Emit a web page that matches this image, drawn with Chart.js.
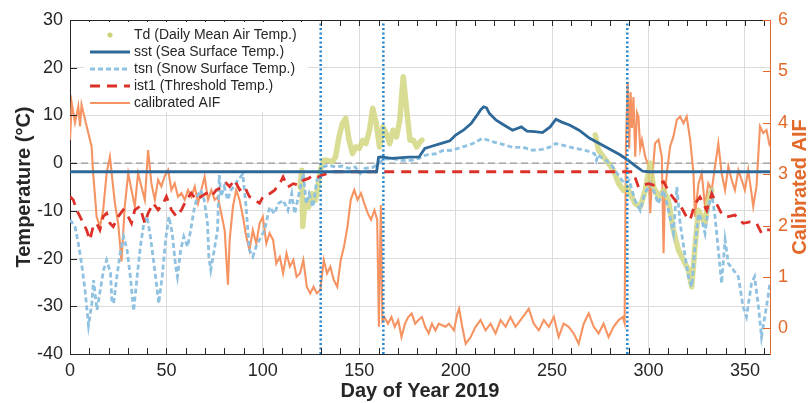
<!DOCTYPE html>
<html>
<head>
<meta charset="utf-8">
<script src="https://cdn.jsdelivr.net/npm/chart.js@4"></script>
<style>
  html, body { margin: 0; padding: 0; background: #fff; overflow: hidden; }
  canvas { display: block; }
</style>
</head>
<body>
<canvas id="aifChart" width="809" height="403"></canvas>
<script>
// Day of year 2019 vs temperatures (left) and calibrated AIF (right)

const tsnDay = [0,2.6,4.3,6,7.8,9.6,11.3,12.2,14,15.7, 17.4,19,21,21.7,22.6,24.3,26,27.8,29.6,31.3,
  33,34.8,36.5,38.3,40,41.7,43.5,45.2,46,47.8, 49.6,51.3,53,54.8,55.7,57.4,59,61,62.6,64.3,
  66,67.8,69.6,71.3,72,73,74.8,76.5,77.4,78.3, 80,81.7,83.5,85.2,87,89.6,91.3,93,94.8,96.5,
  99,101,103.5,106,108,110.5,113,115,116.5,118, 121,122.5,124,126,128,130,131.5,134,137.5,141,
  144.5,148,150.5,153,157,160,162.5,167,172,177, 181,184.5,190,193,198,203.7,208.9,214,219,224,
  229.5,235,240,245,248.5,252,257,262,268,272, 273,274,275,278,281.5,285,287.5,290,293,295.7,
  298,301,302.6,305,307.8,310,312.9,314.7,316.4,319, 320.7,322.4,324,325.9,327.6,329.3,331,332.8,334.5,336.2,
  337.9,339.7,341.4,344,346.6,349,350.8,353.4,355,357, 358.6,360.3,362,363];
const tsnVal = [-11.9,-13.3,-16.8,-21,-26.6,-34,-29.4,-24.5,-30.8,-26.6, -22.4,-20.3,-23,-28.7,-29.4,-23.8,-18.9,-15.4,-18.2,-23.8,
  -31,-23.8,-17.5,-12.6,-11.2,-15.4,-21,-26.6,-29.4,-23.8, -16,-11.2,-14.7,-21.7,-23.8,-18.2,-15.4,-17.5,-14,-9.8,
  -7,-5.6,-7.7,-12.6,-19.6,-22.4,-18.2,-14,-2.5,-7, -4.9,-7.7,-5.6,-4.9,-3.5,-2.3,-9.1,-18.2,-19.6,-17.5,
  -15.4,-14,-9.2,-10.6,-8.5,-7.8,-9.9,-6.4,-10.6,-7.8, -2.2,-8.5,-6.4,-9.2,-3.6,-2.9,-0.8,-0.4,-0.8,-0.6,
  -1.1,-0.8,-2.2,-1.1,-0.9,-0.1,0.8,1.0,0.6,0.6, 1.0,1.7,2.0,2.6,2.7,3.4,4.1,5.2,4.5,4.0,
  3.3,3.3,2.7,2.9,3.3,4.1,3.6,3.1,2.6,2.0, 0.6,1.8,1.3,0.6,-0.8,-2.9,-4.3,-3.6,-7.8,-9.9,
  -6.4,-4.3,-5.7,-8.5,-5.7,-9.2,-14.7,-5,-12.6,-19.6, -23.8,-25.9,-18.2,-10.6,-11.9,-14.7,-9.2,-6.4,-11.2,-18.2,
  -25.2,-16.1,-21,-22.4,-23.8,-30,-32.2,-25.2,-23.8,-30, -36.4,-32.2,-28,-25];

const ist1Day = [0,1.7,3.4,5.2,6.9,8.6,10.3,12,13.8,15.5, 17.2,19,20.7,22.4,25,27.6,29.3,31.9,33.6,36.2,
  38.8,40.5,43.1,45.7,48.3,50,52.6,55.2,57.8,60.3, 62.9,65.5,68.1,70.7,73.3,75.9,78.4,81,82.8,85.3,
  88,90.5,93,95.7,98.3,100,103.5,106,108.8,110.5, 113,115.8,118.4,121,123.7,126.3,129,130.7,133.3,136.8,
  292,294.8,297.4,300,302.6,305.2,307.8,311.2,313.8,316.4, 319.8,321.6,324.1,326.7,330.2,332.8,335.3,337.9,340.5,344.8,
  349.1,352.6,356,358.6,361.2,363];
const ist1Val = [-7,-7.7,-9.8,-11.2,-12.6,-14,-16.1,-13.3,-12.6,-14, -11.2,-10.5,-12.6,-13.3,-11.2,-9.8,-10.5,-12.6,-9.8,-9.1,
  -12.6,-10.5,-8.4,-9.8,-8.4,-7,-9.8,-11.2,-9.8,-7.7, -6.3,-7.7,-7,-6.3,-7,-5.6,-5.2,-4.2,-4.9,-3.5,
  -5.6,-4.9,-7,-7.7,-8.4,-7.1,-6.4,-5.7,-4.3,-2.9, -5,-4.3,-4.6,-3.6,-3.2,-2.5,-2.9,-2.5,-2.2,-1.8,
  -1.8,-5,-4.6,-4.3,-4.6,-4.3,-3.9,-6.4,-7.8,-8.8, -11.3,-11.9,-8.5,-7.1,-9.9,-6.4,-8.5,-10.6,-11.3,-10.9,
  -12.6,-12.3,-12.6,-14.7,-14,-14];

const sstDay = [0,159,160,161,167,175.6,181,184,188,193, 197,200,204,208,211,213,214.5,216,217.5,221,
  225,229.5,234,237,241,245,249,252,255,259, 264,269.5,275,280,285,289.5,293,297,300,363];
const sstVal = [-1.8,-1.8,1.2,1.3,1.0,1.25,1.3,3.1,3.6,4.2, 4.7,5.9,6.9,8.3,10,11.2,11.8,11.6,10.4,9,
  8,6.9,7.6,6.7,6.6,6.4,7.6,9.2,8.6,8.0, 6.9,5.2,4.0,2.9,1.8,0.6,-0.5,-1.7,-1.8,-1.8];

const tdDay = [119.3,120.2,120.7,121.9,123.7,125.4,127.2,128,129,129.8, 131.6,133.3,136,137.7,139.5,141.2,143,144.7,146.5,148.2,
  150,151.8,153.5,155.3,157,158.8,160.5,162.3,164,165.8, 167.5,169.3,171,172.8,174.6,176.3,178.1,179.8,181.6,182.5,
  227, 272.4,274.1,276.7,279.3,281.9,284.5,287,288.8,290.5, 293.1,295.7,298.3,300.9,302.6,305.2,307.8,310.3,312.9,315.5,
  318.1,320.7,322.4,324.1,325.9,327.6,329.3,331,332.8];
const tdVal = [-5,-1.5,-13.3,-7.8,-9.2,-6.4,-7.8,-6.4,-3.6,-1.5, 0.6,0.6,0.3,1.3,5.5,8.3,9.4,4.8,2.0,3.4,
  3.1,4.8,4.1,6.9,11.5,8.3,3.4,7.6,6.2,4.1, 6.9,5.5,9.0,18.1,11.1,4.8,4.8,3.4,4.5,4.8,
  null, 5.9,2.7,1.3,-0.1,-1.5,-4.3,-5.7,-5.0,-6.4, -8.5,-9.2,-5.7,0,-5.0,-7.1,-5.7,-7.8,-14.0,-18.2,
  -20.3,-22.4,-25.9,-17.5,-9.9,-11.3,-12.6,-7.8,-5.7];

const aifDay = [0,0.9,2.6,4.3,5.2,6,7.8,9.5,11.2,12, 13,13.8,15.5,17.2,19,20.7,21.6,23.3,25,26.7,
  28.4,30.2,31.9,33.6,35.3,37,38.8,40.5,42.2,44, 45.7,47.4,49,50.9,52.6,54.3,56,57.8,59.5,61.2,
  62.9,64.7,66.4,68.1,69.8,71.6,73.3,75,76.7,78.4, 80.2,81.9,82.8,84.5,86.2,87.9,89.7,91.4,93.1,94.8,
  96.6,98.3,100,101.8,103.5,105.3,107,108.8,110.5,112.3, 114,115.8,117.5,119.3,121,122.8,124.6,126.3,128,129.8,
  131.6,133.3,135,136.8,138.6,140.4,142.1,143.9,145.6,147.4, 149.1,150.9,152.6,154.4,156.1,157.9,159.3,160.2,161.2,162,
  163,164.9,166.7,168.4,170.2,171.9,173.7,175.4,177.2,179, 180.7,182.5,184.2,186,187.7,189.5,191.2,194.7,196.5,199.1,
  200.9,201.8,203.4,205.2,207.8,210.3,212.9,215.5,218.1,220.7, 223.3,225.9,228.4,231,233.6,236.2,237.9,240.5,243.1,245.7,
  248.3,250.9,253.4,256,258.6,261.2,263.8,266.4,269,271.6, 274.1,276.7,279.3,281.9,284.5,286.7,287.6,288.3,289.2,290,
  290.7,291.4,292.2,293.1,294,294.8,295.7,296.6,298.3,300, 300.9,301.7,303.4,305.2,306.9,307.8,308.5,309.5,311.2,312.9,
  314.7,316.4,318.1,319.8,321.6,323.3,324.1,325.9,327.6,329.3, 331,332.8,334.5,336.2,337.9,339.7,341.4,343.1,344.8,346.6,
  348.3,350,351.7,353.4,354.3,356,357.8,359.5,361.2,362.9];
const aifVal = [3.67,4.38,4.0,4.32,3.93,4.35,4.06,3.8,3.54,3.02, 2.56,2.17,1.98,2.3,3.02,3.34,3.02,2.43,2.04,1.3,
  2.37,3.02,2.69,2.37,3.02,2.76,2.5,3.47,2.82,2.5, 2.89,2.76,2.95,3.08,2.69,2.82,2.56,2.63,2.5,2.69,
  2.56,2.76,2.43,2.69,2.95,2.5,2.69,2.5,2.56,2.24, 1.91,0.85,1.72,2.37,2.69,2.5,2.17,1.78,1.52,1.91,
  1.65,2.04,2.17,1.65,1.85,1.72,1.26,1.39,1.07,1.46, 1.2,1.33,1.0,1.07,1.33,0.81,0.68,0.81,0.68,0.74,
  1.33,1.07,1.2,0.94,0.81,1.33,1.59,1.98,2.5,2.69, 2.5,2.63,2.43,2.24,2.11,2.3,2.11,0.03,2.4,0.15,
  0.22,0.09,0.22,0.03,0.16,-0.17,0.09,0.22,0.29,0.09, 0.16,0.22,0.03,-0.1,0.09,-0.04,0.09,0.03,0.09,-0.04,
  0.29,0.38,0.03,-0.3,-0.17,0.03,0.16,-0.04,0.09,-0.1, 0.16,0.03,0.22,0.03,0.16,0.29,0.38,0.09,-0.04,0.16,
  0.03,0.22,-0.17,0.09,0.03,-0.1,-0.3,0.09,0.29,0.03, -0.1,0.09,-0.17,0.03,0.16,0.22,0.1,3.6,4.8,3.5,
  4.6,3.9,4.5,3.34,4.2,4.12,3.5,3.67,3.34,3.15, 2.24,2.82,3.6,3.67,3.34,1.46,2.6,3.02,3.54,3.73,
  4.06,4.12,3.99,4.12,3.67,3.02,2.17,2.82,3.02,2.37, 2.82,2.69,3.15,3.6,3.02,2.69,3.15,2.89,2.69,3.08,
  2.89,2.69,3.08,2.63,2.37,2.76,3.93,3.8,3.86,3.54];

const markDays = [130, 162.5, 289];   // blue dotted event lines
const refTemp = 0;                    // grey dashed 0 °C line

const xTicks = [0, 50, 100, 150, 200, 250, 300, 350];
const yTicks = [-40, -30, -20, -10, 0, 10, 20, 30];
const y2Ticks = [0, 1, 2, 3, 4, 5, 6];

const FONT = "'Liberation Sans', Arial, Helvetica, sans-serif";
const INK = '#262626';
const GRID = '#dcdcdc';
const ORANGE = '#e3692a';
const X_MAX = 363;

const pts = (days, vals) => days.map((d, i) => ({ x: d, y: vals[i] }));

const datasets = [
  { label: 'Td (Daily Mean Air Temp.)', data: pts(tdDay, tdVal), borderColor: 'rgba(210,214,128,0.85)',
    borderWidth: 5.5, borderCapStyle: 'round', borderJoinStyle: 'round', yAxisID: 'y', order: 5,
    legendDot: '#cdd276', showInLegend: true },
  { label: 'sst (Sea Surface Temp.)', data: pts(sstDay, sstVal), borderColor: '#2d6898',
    borderWidth: 2.8, yAxisID: 'y', order: 2, showInLegend: true },
  { label: 'tsn (Snow Surface Temp.)', data: pts(tsnDay, tsnVal), borderColor: '#8fc1e0',
    borderWidth: 2.8, borderDash: [5, 3], yAxisID: 'y', order: 4, showInLegend: true },
  { label: 'ist1 (Threshold Temp.)', data: pts(ist1Day, ist1Val), borderColor: '#db3128',
    borderWidth: 2.8, borderDash: [10, 7], yAxisID: 'y', order: 3, showInLegend: true },
  { label: 'calibrated AIF', data: pts(aifDay, aifVal), borderColor: '#f59462',
    borderWidth: 2.1, yAxisID: 'y2', order: 6, showInLegend: true },
  { label: 'zero', data: [{ x: 0, y: refTemp }, { x: X_MAX, y: refTemp }], borderColor: '#9a9a9a',
    borderWidth: 1.3, borderDash: [7, 4], yAxisID: 'y', order: 7 }
];
markDays.forEach(d => datasets.push({
  label: 'mark', data: [{ x: d, y: -40 }, { x: d, y: 30 }], borderColor: '#2184cc',
  borderWidth: 2.5, borderDash: [2, 2.5], yAxisID: 'y', order: 1
}));

// inward ticks, top frame line, right title and the boxed legend
const decor = {
  id: 'decor',
  afterDraw(chart) {
    const { ctx, chartArea: a, scales: { x, y, y2 } } = chart;
    ctx.save();
    ctx.lineWidth = 1;
    ctx.strokeStyle = INK;
    ctx.beginPath();
    ctx.moveTo(a.left, a.top + 0.5); ctx.lineTo(a.right, a.top + 0.5);
    for (let d = 0; d <= X_MAX; d += 10) {
      const px = Math.round(x.getPixelForValue(d)) + 0.5;
      ctx.moveTo(px, a.bottom); ctx.lineTo(px, a.bottom - 6);
      ctx.moveTo(px, a.top); ctx.lineTo(px, a.top + 6);
    }
    yTicks.forEach(t => {
      const py = Math.round(y.getPixelForValue(t)) + 0.5;
      ctx.moveTo(a.left, py); ctx.lineTo(a.left + 7, py);
    });
    ctx.stroke();

    ctx.strokeStyle = ORANGE;
    ctx.beginPath();
    y2Ticks.forEach(t => {
      const py = Math.round(y2.getPixelForValue(t)) + 0.5;
      ctx.moveTo(a.right, py); ctx.lineTo(a.right - 7, py);
    });
    ctx.stroke();

    // right axis title reads bottom-to-top like the left one
    ctx.save();
    ctx.translate(800, (a.top + a.bottom) / 2);
    ctx.rotate(-Math.PI / 2);
    ctx.fillStyle = ORANGE;
    ctx.font = `bold 20px ${FONT}`;
    ctx.textAlign = 'center';
    ctx.textBaseline = 'middle';
    ctx.fillText('Calibrated AIF', 0, 0);
    ctx.restore();

    // legend
    const items = chart.data.datasets.filter(d => d.showInLegend);
    ctx.fillStyle = '#fff';
    ctx.fillRect(84, 22, 224, 90);
    ctx.font = `14px ${FONT}`;
    ctx.textBaseline = 'middle';
    ctx.textAlign = 'left';
    items.forEach((d, i) => {
      const ly = 35 + i * 17;
      if (d.legendDot) {
        ctx.fillStyle = d.legendDot;
        ctx.beginPath(); ctx.arc(110, ly, 2.5, 0, Math.PI * 2); ctx.fill();
      } else {
        ctx.strokeStyle = d.borderColor;
        ctx.lineWidth = d.borderWidth;
        ctx.setLineDash(d.borderDash || []);
        ctx.beginPath(); ctx.moveTo(90, ly); ctx.lineTo(130, ly); ctx.stroke();
        ctx.setLineDash([]);
      }
      ctx.fillStyle = INK;
      ctx.fillText(d.label, 134, ly);
    });
    ctx.restore();
  }
};

const keepTicks = list => s => { s.ticks = list.map(v => ({ value: v })); };

new Chart(document.getElementById('aifChart'), {
  type: 'line',
  data: { datasets },
  options: {
    responsive: false,
    animation: false,
    events: [],
    layout: { padding: { top: 20, left: 0, right: 0, bottom: 0 } },
    elements: { point: { radius: 0 }, line: { tension: 0 } },
    plugins: { legend: { display: false }, tooltip: { enabled: false } },
    scales: {
      x: {
        type: 'linear', min: 0, max: X_MAX,
        afterBuildTicks: keepTicks(xTicks),
        afterFit: s => { s.height = 49; },
        ticks: { padding: 6, color: INK, maxRotation: 0, autoSkip: false, font: { family: FONT, size: 18 } },
        grid: { color: GRID, drawTicks: false },
        border: { color: INK, width: 1 },
        title: { display: true, text: 'Day of Year 2019', color: INK, padding: { top: 0, bottom: 0 },
          font: { family: FONT, size: 20, weight: 'bold' } }
      },
      y: {
        position: 'left', min: -40, max: 30,
        afterBuildTicks: keepTicks(yTicks),
        afterFit: s => { s.width = 70; },
        ticks: { padding: 7, color: INK, font: { family: FONT, size: 18 } },
        grid: { color: GRID, drawTicks: false },
        border: { color: INK, width: 1 },
        title: { display: true, text: 'Temperature (°C)', color: INK, padding: { top: 12, bottom: 0 },
          font: { family: FONT, size: 20, weight: 'bold' } }
      },
      y2: {
        position: 'right', min: -0.5, max: 6,
        afterBuildTicks: keepTicks(y2Ticks),
        afterFit: s => { s.width = 39; },
        ticks: { padding: 8, color: ORANGE, font: { family: FONT, size: 18 } },
        grid: { display: false, drawTicks: false },
        border: { color: ORANGE, width: 1 }
      }
    }
  },
  plugins: [decor]
});
</script>
</body>
</html>
